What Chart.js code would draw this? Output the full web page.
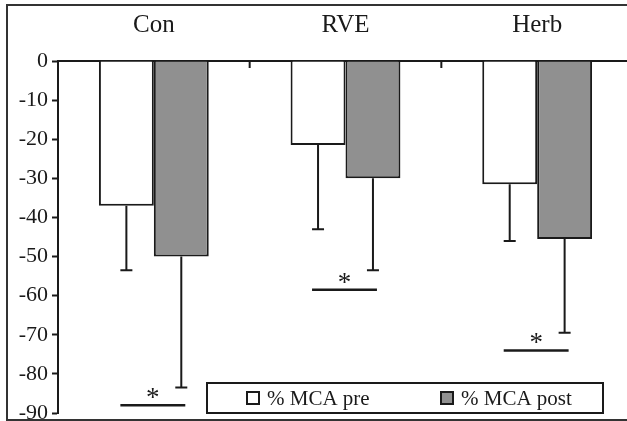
<!DOCTYPE html>
<html>
<head>
<meta charset="utf-8">
<script src="https://cdn.jsdelivr.net/npm/chart.js@4"></script>
<style>
  html, body { margin: 0; padding: 0; overflow: hidden; background: #fff; }
  #wrap { width: 640px; height: 421px; }
</style>
</head>
<body>
<div id="wrap"><canvas id="myChart"></canvas></div>
<script>
const categories = ['Con', 'RVE', 'Herb'];
const seriesLabels = ['% MCA pre', '% MCA post'];
const preMean = [-37, -21.5, -31.5];
const preSD = [16.5, 21.5, 14.5];
const postMean = [-50, -30, -45.5];
const postSD = [33.5, 23.5, 24];
// level of the significance bar (with asterisk) under each group
const sigLevel = [-88, -58.5, -74];
const Y_MIN = -90;
const Y_MAX = 0;
const Y_STEP = 10;

const FONT = "'Liberation Serif', 'Times New Roman', serif";
const INK = '#1a1a1a';
const GREY = '#909090';

// outer frame round the figure
const framePlugin = {
  id: 'frame',
  beforeDraw(chart) {
    const c = chart.ctx;
    c.save();
    c.fillStyle = '#fff';
    c.fillRect(0, 0, chart.width, chart.height);
    c.strokeStyle = '#333';
    c.lineWidth = 2;
    c.strokeRect(7, 5, chart.width, 415);
    c.restore();
  }
};

// small ticks between the groups, pointing into the plot
const groupTicks = {
  id: 'groupTicks',
  afterDraw(chart) {
    const x = chart.scales.x, top = chart.chartArea.top;
    const c = chart.ctx;
    c.save();
    c.strokeStyle = INK;
    c.lineWidth = 2;
    for (let i = 1; i < categories.length; i++) {
      const px = (x.getPixelForValue(i - 1) + x.getPixelForValue(i)) / 2;
      c.beginPath();
      c.moveTo(px, top);
      c.lineTo(px, top + 7);
      c.stroke();
    }
    c.restore();
  }
};

const errorBars = {
  id: 'errorBars',
  afterDatasetsDraw(chart) {
    const y = chart.scales.y;
    const c = chart.ctx;
    const sds = [preSD, postSD];
    c.save();
    c.strokeStyle = INK;
    c.lineWidth = 2;
    chart.data.datasets.forEach((ds, d) => {
      chart.getDatasetMeta(d).data.forEach((bar, i) => {
        const yEnd = y.getPixelForValue(ds.data[i] - sds[d][i]);
        c.beginPath();
        c.moveTo(bar.x, bar.y);
        c.lineTo(bar.x, yEnd);
        c.moveTo(bar.x - 6, yEnd);
        c.lineTo(bar.x + 6, yEnd);
        c.stroke();
      });
    });
    c.restore();
  }
};

const sigMarks = {
  id: 'sigMarks',
  afterDatasetsDraw(chart) {
    const y = chart.scales.y;
    const c = chart.ctx;
    const pre = chart.getDatasetMeta(0).data, post = chart.getDatasetMeta(1).data;
    c.save();
    c.strokeStyle = INK;
    c.fillStyle = INK;
    c.lineWidth = 2.5;
    c.font = '27px ' + FONT;
    c.textAlign = 'center';
    c.textBaseline = 'alphabetic';
    sigLevel.forEach((v, i) => {
      const py = y.getPixelForValue(v);
      const x0 = pre[i].x - 6, x1 = post[i].x + 4;
      c.beginPath();
      c.moveTo(x0, py);
      c.lineTo(x1, py);
      c.stroke();
      c.fillText('*', (x0 + x1) / 2, py + 1);
    });
    c.restore();
  }
};

// boxed legend in the lower right of the plot
const boxLegend = {
  id: 'boxLegend',
  afterDraw(chart) {
    const a = chart.chartArea;
    const c = chart.ctx;
    const left = a.left + 149, w = 396, h = 30, top = a.bottom - h;
    const midY = top + h / 2;
    c.save();
    c.fillStyle = '#fff';
    c.fillRect(left, top, w, h);
    c.strokeStyle = INK;
    c.lineWidth = 2;
    c.strokeRect(left, top, w, h);
    c.font = '21px ' + FONT;
    c.textBaseline = 'middle';
    c.textAlign = 'left';
    const itemX = [left + 40, left + 234];
    chart.data.datasets.forEach((ds, d) => {
      const mx = itemX[d];
      c.fillStyle = ds.backgroundColor;
      c.fillRect(mx, midY - 6, 12, 12);
      c.strokeStyle = INK;
      c.lineWidth = 2;
      c.strokeRect(mx, midY - 6, 12, 12);
      c.fillStyle = INK;
      c.fillText(ds.label, mx + 20, midY + 1);
    });
    c.restore();
  }
};

let myChart;
const setup = () => {
  const ctxt = document.getElementById('myChart').getContext('2d');
  myChart = new Chart(ctxt, {
    type: 'bar',
    data: {
      labels: categories,
      datasets: [
        {
          label: seriesLabels[0],
          data: preMean,
          backgroundColor: '#ffffff',
          borderColor: INK,
          borderWidth: 2
        },
        {
          label: seriesLabels[1],
          data: postMean,
          backgroundColor: GREY,
          borderColor: INK,
          borderWidth: 2
        }
      ]
    },
    options: {
      responsive: true,
      maintainAspectRatio: false,
      animation: false,
      devicePixelRatio: 1,
      layout: { padding: { left: 0, right: 7, top: 0, bottom: 8 } },
      datasets: { bar: { categoryPercentage: 0.573, barPercentage: 1.0 } },
      plugins: {
        legend: { display: false },
        tooltip: { enabled: false }
      },
      scales: {
        x: {
          position: 'top',
          grid: { drawOnChartArea: false, drawTicks: false },
          border: { display: true, color: INK, width: 2 },
          ticks: { color: INK, padding: 21, font: { family: FONT, size: 25 } },
          afterFit: s => { s.height = 61; s.paddingLeft = 0; s.paddingRight = 0; }
        },
        y: {
          min: Y_MIN,
          max: Y_MAX,
          grid: { drawOnChartArea: false, tickLength: 6, tickColor: INK, tickWidth: 2 },
          border: { display: true, color: INK, width: 2 },
          ticks: { stepSize: Y_STEP, color: INK, padding: 4, font: { family: FONT, size: 22 } },
          afterFit: s => { s.width = 58; s.paddingTop = 0; s.paddingBottom = 0; }
        }
      }
    },
    plugins: [framePlugin, groupTicks, errorBars, sigMarks, boxLegend]
  });
};

window.addEventListener('DOMContentLoaded', setup);
</script>
</body>
</html>
